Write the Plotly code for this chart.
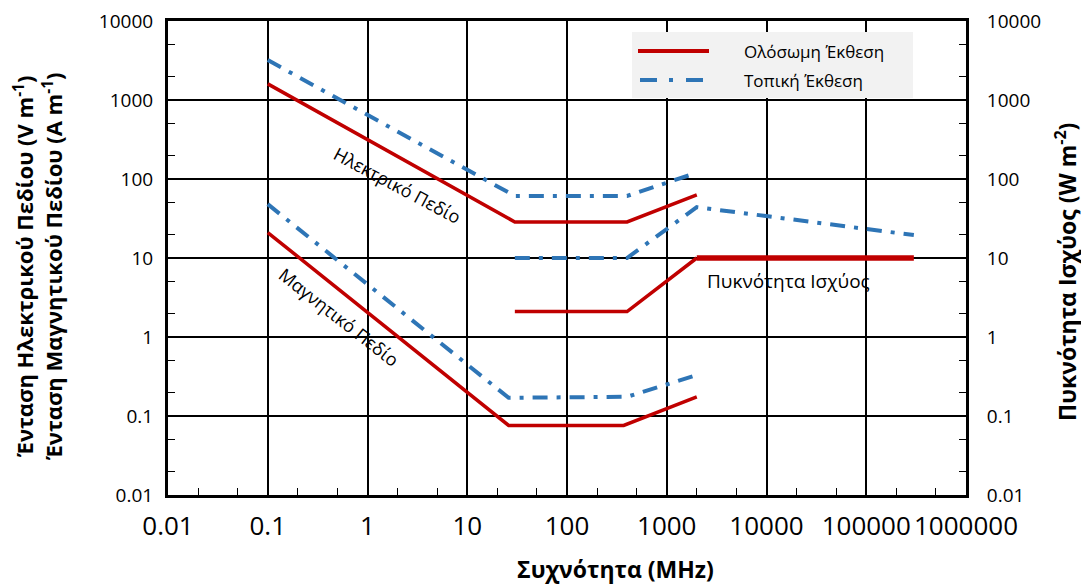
import plotly.graph_objects as go

# ---------------- data ----------------
freq_E_wb = [0.1, 30, 400, 2000]
E_wb = [1600, 28.6, 28.6, 63]
freq_E_loc = [0.1, 30, 400, 2000]
E_loc = [3200, 61, 61, 120]

freq_H_wb = [0.1, 26, 370, 2000]
H_wb = [21, 0.076, 0.076, 0.175]
freq_H_loc = [0.1, 26, 400, 2000]
H_loc = [48, 0.17, 0.175, 0.33]

freq_S_wb = [30, 400, 2000, 300000]
S_wb = [2.1, 2.1, 10, 10]
freq_S_loc = [30, 400, 2000, 300000]
S_loc = [10, 10, 44, 19.5]

x_tickvals = [0.01, 0.1, 1, 10, 100, 1000, 10000, 100000, 1000000]
x_ticktext = ["0.01", "0.1", "1", "10", "100", "1000", "10000", "100000", "1000000"]
y_tickvals = [0.01, 0.1, 1, 10, 100, 1000, 10000]
y_ticktext = ["0.01", "0.1", "1", "10", "100", "1000", "10000"]

series_names = ["Ολόσωμη Έκθεση", "Τοπική Έκθεση"]

# ---------------- styles ----------------
OFF = 8                      # page body margin of the browser
W, H = 1089 - OFF, 587 - OFF
L, R, T, B = 168 - OFF, 966 - OFF, 21 - OFF, 495 - OFF
RED = "#c00000"
BLUE = "#2e75b6"
DASHDOT = "15px,9px,4px,9px"
FONT = "Open Sans"


def px(x):
    """window pixel x -> paper fraction"""
    return (x - OFF - L) / (R - L)


def py(y):
    """window pixel y -> paper fraction"""
    return (B - (y - OFF)) / (B - T)


fig = go.Figure()

def red(x, y, width=3.5, yaxis="y"):
    fig.add_trace(go.Scatter(x=x, y=y, mode="lines", yaxis=yaxis,
                             line=dict(color=RED, width=width),
                             name=series_names[0], showlegend=False))

def blue(x, y, yaxis="y"):
    fig.add_trace(go.Scatter(x=x, y=y, mode="lines", yaxis=yaxis,
                             line=dict(color=BLUE, width=4, dash=DASHDOT),
                             name=series_names[1], showlegend=False))

blue(freq_E_loc, E_loc)
red(freq_E_wb, E_wb)
blue(freq_H_loc, H_loc)
red(freq_H_wb, H_wb)
blue(freq_S_loc, S_loc, yaxis="y2")
red(freq_S_wb[:3], S_wb[:3], yaxis="y2")
red(freq_S_wb[2:], S_wb[2:], width=5.5, yaxis="y2")

tick_common = dict(ticks="inside", ticklen=8, tickwidth=1.5, tickcolor="black",
                   ticklabeloverflow="allow")
minor_common = dict(ticks="inside", ticklen=7, tickwidth=1.3, tickcolor="black",
                    showgrid=False)
line_common = dict(type="log", showline=True, linecolor="black", linewidth=3,
                   zeroline=False, automargin=False)

fig.update_layout(
    width=W, height=H,
    margin=dict(l=L, r=W - R, t=T, b=H - B, autoexpand=False),
    paper_bgcolor="white", plot_bgcolor="white",
    font=dict(family=FONT, color="black"),
    showlegend=False,
    xaxis=dict(
        **line_common, **tick_common,
        range=[-2, 6], mirror=True,
        tickvals=x_tickvals, ticktext=x_ticktext,
        tickfont=dict(family=FONT, size=26, color="black"),
        showgrid=True, gridcolor="black", gridwidth=1.6,
        ticklabelstandoff=6,
        minor=minor_common,
    ),
    yaxis=dict(
        **line_common, **tick_common,
        range=[-2, 4], mirror=True,
        tickvals=y_tickvals, ticktext=y_ticktext,
        tickfont=dict(family=FONT, size=19, color="black"),
        showgrid=True, gridcolor="black", gridwidth=1.6,
        ticklabelstandoff=8,
        minor=minor_common,
    ),
    yaxis2=dict(
        **line_common, **tick_common,
        range=[-2, 4], overlaying="y", side="right",
        tickvals=y_tickvals, ticktext=y_ticktext,
        tickfont=dict(family=FONT, size=19, color="black"),
        showgrid=False,
        ticklabelstandoff=14,
        minor=minor_common,
    ),
)

# ---------------- legend (box, samples, text) ----------------
fig.add_shape(type="rect", xref="paper", yref="paper",
              x0=px(632), x1=px(913), y0=py(98), y1=py(32),
              fillcolor="#f2f2f2", line=dict(width=0), layer="above")
fig.add_shape(type="line", xref="paper", yref="paper",
              x0=px(638), x1=px(709), y0=py(51), y1=py(51),
              line=dict(color=RED, width=4), layer="above")
fig.add_shape(type="line", xref="paper", yref="paper",
              x0=px(640), x1=px(703), y0=py(80), y1=py(80),
              line=dict(color=BLUE, width=4, dash="17px,12px,4px,13px"), layer="above")
for name, yy in zip(series_names, [51, 80]):
    fig.add_annotation(text=name, xref="paper", yref="paper",
                       x=px(742), y=py(yy), xanchor="left", yanchor="middle",
                       showarrow=False, font=dict(family=FONT, size=17, color="black"))

# ---------------- in-plot labels ----------------
def label(text, x, y, size, angle=0):
    fig.add_annotation(text=text, xref="paper", yref="paper",
                       x=px(x), y=py(y), textangle=angle, showarrow=False,
                       xanchor="center", yanchor="middle",
                       font=dict(family=FONT, size=size, color="black"))

label("Ηλεκτρικό Πεδίο", 397, 185, 18, 28)
label("Μαγνητικό Πεδίο", 339, 317, 18, 38)
label("Πυκνότητα Ισχύος", 788, 281, 19)

# ---------------- axis titles ----------------
label("<b>Ένταση Ηλεκτρικού Πεδίου (V m<sup>-1</sup>)</b><br>"
      "<b>Ένταση Μαγνητικού Πεδίου (A m<sup>-1</sup>)</b>", 38, 267, 22, -90)
label("<b>Πυκνότητα Ισχύος (W m<sup>-2</sup>)</b>", 1066, 272, 23, -90)
label("<b>Συχνότητα (MHz)</b>", 615, 569, 23)

fig.write_html("out.html")
